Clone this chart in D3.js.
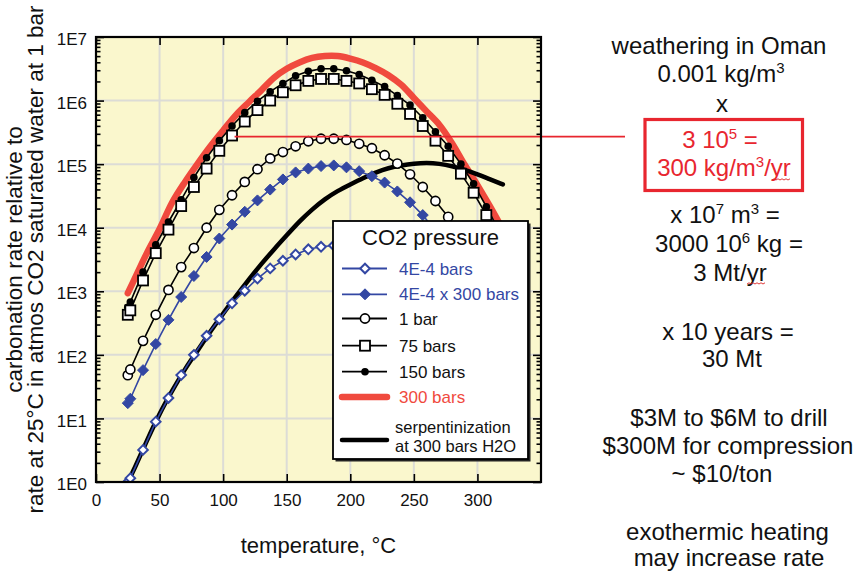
<!DOCTYPE html>
<html><head><meta charset="utf-8">
<script src="https://cdn.jsdelivr.net/npm/d3@7"></script>
<style>
body{margin:0;background:#fff;}
svg{display:block;font-family:"Liberation Sans",Arial,Helvetica,sans-serif;}
</style>
</head><body>
<svg id="c" width="855" height="573"></svg>
<script>
// ---------- data ----------
const temps = [25,27,37,47,57,67,77,87,97,107,117,127,137,147,157,167,177,187,197,207,217,227,237,247,257,267,277,287,297,307,317];
const co2_4e4 = [1.0,1.15,3.2,8.9,21,48,100,200,363,646,1020,1585,2290,3020,3800,4570,5010,5250,5250,5010,4470,3800,3020,2240,1510,955,550,288,138,60,24];
const co2_4e4x300 = [17.4,20.4,57.5,148,355,813,1740,3470,6760,11200,17800,26900,39800,57500,74100,85100,93300,95500,89100,77600,64600,51300,37200,25100,15800,8910,4470,2000,794,282,89];
const co2_1bar = [47.9,58.9,166,427,1050,2400,4790,10000,19100,32400,52500,83200,123000,155000,191000,229000,251000,251000,240000,209000,178000,138000,102000,69200,43700,26300,14800,7590,3550,1510,603];
const co2_75bar = [427,501,1480,3980,9330,21900,43700,85100,162000,282000,468000,708000,1000000,1350000,1740000,2040000,2190000,2190000,2040000,1860000,1510000,1230000,891000,617000,398000,234000,135000,70800,35500,15800,6610];
const co2_150bar = [562,676,2000,5370,12300,27500,61700,126000,234000,398000,646000,977000,1380000,1860000,2450000,2880000,3160000,3160000,2950000,2570000,2090000,1660000,1200000,851000,537000,324000,191000,100000,49000,21400,8910];
const tempsRed = [25,30,40,50,60,70,80,90,100,110,120,130,140,150,160,170,180,190,200,210,220,230,240,250,260,270,280,290,300,310,317];
const co2_300bar = [933,1510,3980,9550,25100,52500,102000,191000,339000,589000,933000,1450000,2290000,3160000,3980000,4680000,5010000,5010000,4570000,3980000,3240000,2510000,1780000,1100000,676000,417000,214000,97700,46800,21400,12000];
const tempsSerp = [25,30,40,50,60,70,80,90,100,110,120,130,140,150,160,170,180,190,200,210,220,230,240,250,260,270,280,290,300,310,320];
const serpentinization = [1.0,1.58,4.47,12.0,27.5,60.3,117,234,447,832,1510,2690,4570,7590,12600,19500,28200,38000,47900,60300,74100,87100,95500,102000,105000,102000,93300,81300,69200,57500,47900];

const xTicks = [0,50,100,150,200,250,300];
const xTickLabels = ["0","50","100","150","200","250","300"];
const yTicks = [1,1e1,1e2,1e3,1e4,1e5,1e6,1e7];
const yTickLabels = ["1E0","1E1","1E2","1E3","1E4","1E5","1E6","1E7"];
const legendLabels = ["4E-4 bars","4E-4 x 300 bars","1 bar","75 bars","150 bars","300 bars"];
const annotValue = 2.7e5, annotTemp = 109;

// ---------- layout ----------
const L = 96, R = 541, T = 37, B = 482;
const BLUE = "#3347a3", RED = "#f04a3e", ARED = "#e8262f";
const svg = d3.select("#c");
const x = d3.scaleLinear().domain([0,350]).range([L,R]);
const y = d3.scaleLog().domain([1,1e7]).range([B,T]);

svg.append("rect").attr("x",L).attr("y",T).attr("width",R-L).attr("height",B-T).attr("fill","#faf7cd");

// grid
const grid = svg.append("g").attr("stroke","#dcdcd6").attr("stroke-width",2);
xTicks.filter(d=>d>0).forEach(d=>grid.append("line").attr("x1",x(d)).attr("x2",x(d)).attr("y1",T).attr("y2",B));
yTicks.filter(d=>d>1&&d<1e7).forEach(d=>grid.append("line").attr("y1",y(d)).attr("y2",y(d)).attr("x1",L).attr("x2",R));

svg.append("clipPath").attr("id","clip").append("rect").attr("x",L).attr("y",T).attr("width",R-L).attr("height",B-T);
const plot = svg.append("g").attr("clip-path","url(#clip)");

const lineGen = (xs, vs, curve) => d3.line().curve(curve||d3.curveLinear).x((d,i)=>x(xs[i])).y(d=>y(d))(vs);

// 300 bars red
plot.append("path").attr("d",lineGen(tempsRed,co2_300bar,d3.curveCatmullRom)).attr("fill","none").attr("stroke",RED).attr("stroke-width",6.5).attr("stroke-linecap","round");
// serpentinization
plot.append("path").attr("d",lineGen(tempsSerp,serpentinization,d3.curveBasis)).attr("fill","none").attr("stroke","#000").attr("stroke-width",4.5).attr("stroke-linecap","round");

function series(vals, color, marker){
  plot.append("path").attr("d",lineGen(temps,vals)).attr("fill","none").attr("stroke",color).attr("stroke-width",1.6);
  const g = plot.append("g");
  vals.forEach((v,i)=>{
    marker(g).attr("transform",`translate(${x(temps[i])},${y(v)})`);
  });
}
const openDiamond = g=>g.append("path").attr("d","M0,-4.8L4.8,0L0,4.8L-4.8,0Z").attr("fill","#fff").attr("stroke",BLUE).attr("stroke-width",2);
const fillDiamond = g=>g.append("path").attr("d","M0,-5.5L5.5,0L0,5.5L-5.5,0Z").attr("fill",BLUE).attr("stroke",BLUE).attr("stroke-width",1);
const openCircle = g=>g.append("circle").attr("r",4.6).attr("fill","#fff").attr("stroke","#000").attr("stroke-width",1.6);
const openSquare = g=>g.append("rect").attr("x",-5).attr("y",-5).attr("width",10).attr("height",10).attr("fill","#fff").attr("stroke","#000").attr("stroke-width",1.8);
const fillDot = g=>g.append("circle").attr("r",3.8).attr("fill","#000");

series(co2_4e4, BLUE, openDiamond);
series(co2_4e4x300, BLUE, fillDiamond);
series(co2_1bar, "#000", openCircle);
series(co2_150bar, "#000", fillDot);
series(co2_75bar, "#000", openSquare);

// annotation line
svg.append("line").attr("x1",x(annotTemp)).attr("x2",625).attr("y1",y(annotValue)).attr("y2",y(annotValue)).attr("stroke",ARED).attr("stroke-width",1.8);

// axes
const minor = [];
for(let e=0;e<7;e++) for(let k=2;k<=9;k++) minor.push(k*Math.pow(10,e));
function styleAxis(g){ g.select(".domain").remove(); g.selectAll(".tick line").attr("stroke","#000").attr("stroke-width",1.6); g.selectAll("text").attr("font-size",17).attr("fill","#111").attr("font-family","Liberation Sans, Arial, sans-serif"); }
svg.append("g").attr("transform",`translate(${L},0)`).call(d3.axisLeft(y).tickValues(yTicks).tickSize(-8).tickPadding(9).tickFormat((d,i)=>yTickLabels[i])).call(styleAxis).selectAll("text").attr("dy","0.45em");
svg.append("g").attr("transform",`translate(${L},0)`).call(d3.axisLeft(y).tickValues(minor).tickSize(-4.5).tickFormat("")).call(styleAxis);
svg.append("g").attr("transform",`translate(${R},0)`).call(d3.axisRight(y).tickValues(yTicks).tickSize(-8).tickFormat("")).call(styleAxis);
svg.append("g").attr("transform",`translate(${R},0)`).call(d3.axisRight(y).tickValues(minor).tickSize(-4.5).tickFormat("")).call(styleAxis);
svg.append("g").attr("transform",`translate(0,${B})`).call(d3.axisBottom(x).tickValues(xTicks).tickSize(-8).tickPadding(12).tickFormat((d,i)=>xTickLabels[i])).call(styleAxis);
svg.append("g").attr("transform",`translate(0,${T})`).call(d3.axisTop(x).tickValues(xTicks).tickSize(-8).tickFormat("")).call(styleAxis);
svg.append("rect").attr("x",L).attr("y",T).attr("width",R-L).attr("height",B-T).attr("fill","none").attr("stroke","#000").attr("stroke-width",2.2);

// axis titles
svg.append("text").attr("x",(L+R)/2).attr("y",553).attr("text-anchor","middle").attr("font-size",22).attr("fill","#111").text("temperature, °C");
const yl = svg.append("text").attr("transform",`translate(0,${(T+B)/2}) rotate(-90)`).attr("text-anchor","middle").attr("font-size",22.5).attr("fill","#111");
yl.append("tspan").attr("x",0).attr("y",22).text("carbonation rate relative to");
yl.append("tspan").attr("x",0).attr("y",43).text("rate at 25°C in atmos CO2 saturated water at 1 bar");

// legend
const lx = 333, ly = 221, lw = 195, lh = 238;
svg.append("rect").attr("x",lx+2.5).attr("y",ly+2.5).attr("width",lw).attr("height",lh).attr("fill","#222");
svg.append("rect").attr("x",lx).attr("y",ly).attr("width",lw).attr("height",lh).attr("fill","#fff").attr("stroke","#000").attr("stroke-width",1.8);
svg.append("text").attr("x",lx+lw/2).attr("y",245).attr("text-anchor","middle").attr("font-size",22).attr("fill","#111").text("CO2 pressure");
const rows = [
  {y:268.5, color:BLUE, m:openDiamond, tc:BLUE},
  {y:294.3, color:BLUE, m:fillDiamond, tc:BLUE},
  {y:318.5, color:"#000", m:openCircle, tc:"#111"},
  {y:345.7, color:"#000", m:openSquare, tc:"#111"},
  {y:371.7, color:"#000", m:fillDot, tc:"#111"},
];
const lg = svg.append("g");
rows.forEach((r,i)=>{
  lg.append("line").attr("x1",342).attr("x2",387).attr("y1",r.y).attr("y2",r.y).attr("stroke",r.color).attr("stroke-width",1.8);
  r.m(lg).attr("transform",`translate(365,${r.y})`);
  lg.append("text").attr("x",399).attr("y",r.y+6).attr("font-size",17).attr("fill",r.tc).text(legendLabels[i]);
});
lg.append("line").attr("x1",342).attr("x2",387).attr("y1",397).attr("y2",397).attr("stroke",RED).attr("stroke-width",6.5).attr("stroke-linecap","round");
lg.append("text").attr("x",399).attr("y",403).attr("font-size",17).attr("fill",RED).text(legendLabels[5]);
lg.append("line").attr("x1",342).attr("x2",387).attr("y1",440).attr("y2",440).attr("stroke","#000").attr("stroke-width",4.5).attr("stroke-linecap","round");
lg.append("text").attr("x",395).attr("y",432.5).attr("font-size",16.5).attr("fill","#111").text("serpentinization");
lg.append("text").attr("x",395).attr("y",452).attr("font-size",16.5).attr("fill","#111").text("at 300 bars H2O");

// right-hand notes
const notes = svg.append("g").attr("font-size",24).attr("text-anchor","middle").attr("fill","#111");
function note(cx, by, parts, color){
  const t = notes.append("text").attr("x",cx).attr("y",by).attr("fill",color||"#111");
  let raised = false;
  parts.forEach(p=>{
    if(typeof p === "string"){
      const s = t.append("tspan").text(p);
      if(raised){ s.attr("dy",9); raised = false; }
    } else {
      t.append("tspan").attr("font-size",15).attr("dy",-9).text(p.sup);
      raised = true;
    }
  });
  return t;
}
note(719, 54, ["weathering in Oman"]);
note(721, 81.7, ["0.001 kg/m",{sup:"3"}]);
note(722, 111.7, ["x"]);
svg.append("rect").attr("x",645).attr("y",119.5).attr("width",157.5).attr("height",71).attr("fill","none").attr("stroke",ARED).attr("stroke-width",3.2);
note(720, 148.3, ["3 10",{sup:"5"}," ="], ARED);
note(724, 176, ["300 kg/m",{sup:"3"},"/yr"], ARED);
note(725, 222.7, ["x 10",{sup:"7"}," m",{sup:"3"}," ="]);
note(729, 251.7, ["3000 10",{sup:"6"}," kg ="]);
note(730, 280.7, ["3 Mt/yr"]);
note(728, 340, ["x 10 years ="]);
note(732, 367, ["30 Mt"]);
note(729, 426, ["$3M to $6M to drill"]);
note(728, 454, ["$300M for compression"]);
note(722, 481.7, ["~ $10/ton"]);
note(727.5, 540, ["exothermic heating"]);
note(729, 566, ["may increase rate"]);
// spell-check squiggles
function squiggle(x0, x1, yy){
  let d = `M${x0},${yy}`; let up = true;
  for(let xx=x0+2; xx<=x1; xx+=2){ d += `L${xx},${yy + (up?-1.2:0)}`; up=!up; }
  svg.append("path").attr("d",d).attr("fill","none").attr("stroke","#d22").attr("stroke-width",0.9);
}
squiggle(772, 790, 180);
squiggle(747, 766, 284);
</script>
</body></html>
